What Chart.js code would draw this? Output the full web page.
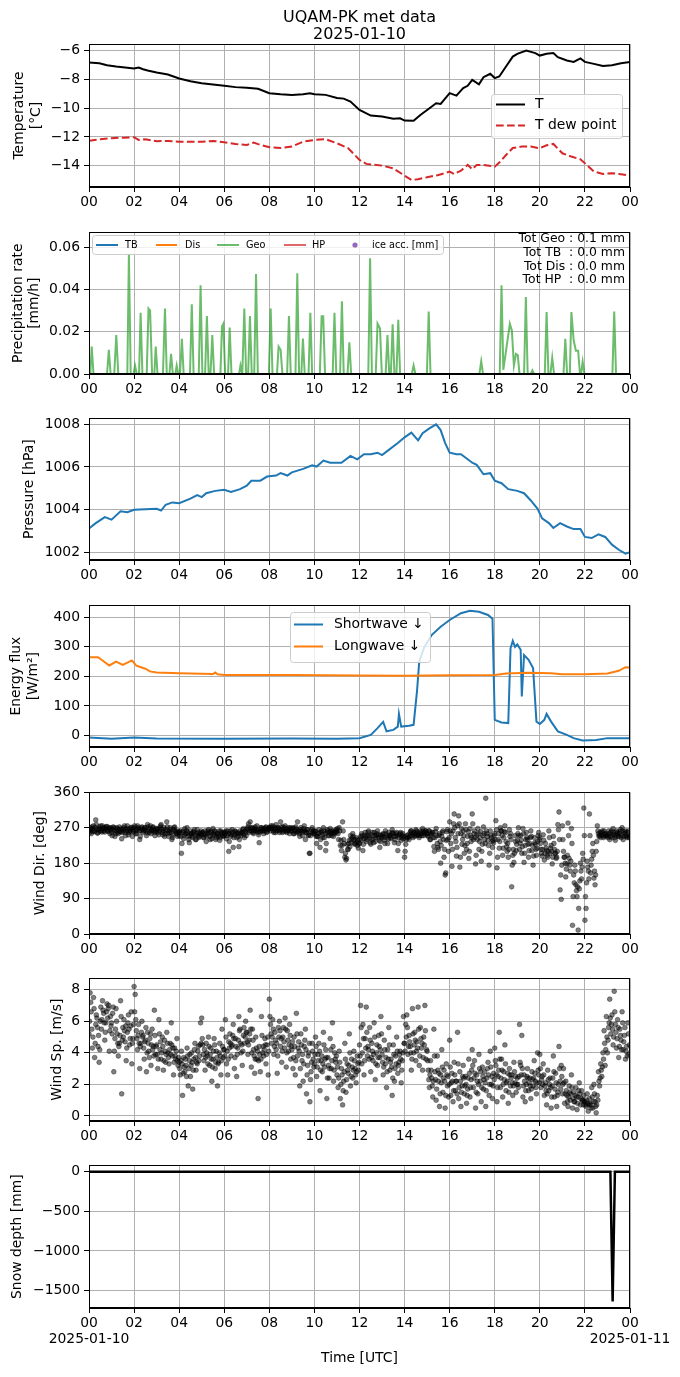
<!DOCTYPE html>
<html>
<head>
<meta charset="utf-8">
<script src="https://cdn.jsdelivr.net/npm/chart.js@4.4.1/dist/chart.umd.min.js"></script>
<style>
  body { margin: 0; background: #fff; }
  #fig { position: relative; width: 680px; height: 1377px; background: #fff; }
  #fig canvas { position: absolute; left: 0; }
</style>
</head>
<body>
<div id="fig">
  <canvas id="cTemp"></canvas>
  <canvas id="cPrecip"></canvas>
  <canvas id="cPres"></canvas>
  <canvas id="cFlux"></canvas>
  <canvas id="cDir"></canvas>
  <canvas id="cSpd"></canvas>
  <canvas id="cSnow"></canvas>
</div>
<script>
// ---- data (hours since 2025-01-10 00 UTC) ----
const titleLines = ['UQAM-PK met data', '2025-01-10'];
const dateLabels = ['2025-01-10', '2025-01-11'];

const tempHours = [0,0.46,0.8,1.2,1.6,2.0,2.2,2.4,2.6,3.0,3.5,4.0,4.5,5.0,5.5,6.0,6.5,7.0,7.5,8.0,8.5,9.0,9.5,9.8,10.0,10.5,11.0,11.3,11.6,12.0,12.5,13.0,13.5,13.8,14.0,14.4,14.7,15.0,15.4,15.6,16.0,16.3,16.6,16.8,17.0,17.3,17.5,17.8,18.0,18.2,18.5,18.8,19.0,19.4,19.8,20.0,20.3,20.6,20.8,21.2,21.5,21.8,22.0,22.4,22.8,23.2,23.6,24];
const tempC = [-6.81,-6.86,-7.0,-7.09,-7.16,-7.23,-7.16,-7.28,-7.37,-7.51,-7.65,-7.93,-8.12,-8.26,-8.35,-8.44,-8.53,-8.58,-8.65,-8.95,-9.02,-9.07,-9.02,-8.95,-9.02,-9.07,-9.28,-9.33,-9.53,-10.12,-10.51,-10.58,-10.74,-10.7,-10.86,-10.88,-10.47,-10.12,-9.65,-9.7,-8.95,-9.12,-8.6,-8.44,-8.02,-8.33,-7.84,-7.6,-7.9,-7.79,-7.09,-6.4,-6.21,-5.98,-6.16,-6.33,-6.21,-6.16,-6.44,-6.67,-6.77,-6.53,-6.77,-6.91,-7.05,-7.0,-6.86,-6.77];

const dewHours = [0,0.5,1.0,1.5,2.0,2.2,2.5,3.0,3.5,4.0,5.0,5.5,6.0,6.5,7.0,7.3,7.5,8.0,8.5,9.0,9.5,10.0,10.5,11.0,11.5,12.0,12.3,13.0,13.5,14.0,14.3,14.6,15.0,15.5,16.0,16.2,16.5,16.8,17.0,17.2,17.5,18.0,18.2,18.5,18.8,19.2,19.6,20.0,20.3,20.6,21.0,21.4,21.8,22.0,22.4,22.8,23.2,23.6,24];
const dewC = [-12.26,-12.16,-12.09,-12.05,-12.02,-12.21,-12.16,-12.3,-12.28,-12.33,-12.33,-12.28,-12.37,-12.49,-12.56,-12.4,-12.5,-12.72,-12.77,-12.67,-12.33,-12.21,-12.16,-12.44,-12.79,-13.6,-13.88,-14.0,-14.19,-14.7,-15.0,-14.95,-14.81,-14.65,-14.42,-14.58,-14.35,-13.95,-14.26,-13.95,-13.95,-14.07,-13.79,-13.26,-12.77,-12.67,-12.67,-12.79,-12.58,-12.49,-13.14,-13.37,-13.56,-13.84,-14.42,-14.58,-14.53,-14.6,-14.7];

const geoHours = [0,0.06,0.12,0.2,0.8,0.88,0.96,1.12,1.21,1.3,1.7,1.77,1.85,1.98,2.04,2.12,2.22,2.29,2.37,2.56,2.64,2.71,2.8,2.9,2.96,3.04,3.28,3.37,3.45,3.57,3.64,3.72,3.83,3.89,3.96,4.04,4.12,4.2,4.48,4.56,4.64,4.87,4.95,5.03,5.15,5.23,5.31,5.39,5.47,5.55,5.83,5.9,5.96,6.04,6.17,6.24,6.32,6.66,6.72,6.8,6.89,6.97,7.06,7.14,7.22,7.33,7.41,7.49,7.98,8.06,8.14,8.34,8.41,8.5,8.58,8.79,8.87,8.95,9.16,9.24,9.32,9.42,9.49,9.57,9.74,9.82,9.9,10.24,10.32,10.39,10.47,10.81,10.89,10.97,11.14,11.22,11.3,11.47,11.55,11.63,12.39,12.47,12.55,12.72,12.8,12.91,12.99,13.16,13.24,13.32,13.39,13.47,13.55,13.64,13.72,13.8,14.32,14.4,14.48,14.99,15.07,15.15,17.32,17.4,17.48,18.22,18.3,18.38,18.67,18.76,18.85,18.94,19.02,19.1,19.3,19.38,19.46,19.6,19.67,19.75,20.22,20.3,20.38,20.47,20.55,20.63,21.05,21.13,21.21,21.33,21.4,21.5,21.6,21.7,21.78,21.83,21.9,21.98,23.22,23.3,23.38,24];
const geoRate = [0,0,0.013,0,0,0.0115,0,0,0.0185,0,0,0.057,0,0,0.004,0,0,0.029,0,0,0.031,0.030,0,0,0.013,0,0,0.031,0,0,0.0095,0,0,0.004,0,0,0.0167,0,0,0.033,0,0,0.042,0,0,0.0275,0,0,0.0185,0,0,0.0225,0.0238,0,0,0.022,0,0,0.004,0,0.031,0,0,0.0275,0,0,0.0474,0,0,0.031,0,0,0.013,0.0115,0,0,0.0275,0,0,0.0477,0,0,0.0168,0,0,0.029,0,0,0.0274,0.0274,0,0,0.029,0,0,0.0345,0,0,0.015,0,0,0.0548,0,0,0.0238,0.0215,0,0,0.0185,0,0,0.0236,0,0,0.0257,0,0,0.004,0,0,0.0296,0,0,0.006,0,0,0.042,0.002,0.0238,0.0205,0.004,0.0095,0.009,0,0,0.0365,0,0,0.0017,0,0,0.0293,0,0,0.0077,0,0,0.0167,0,0,0.0293,0.016,0.011,0.011,0,0,0.0058,0,0,0.0296,0,0];
const precipTotals = ['Tot Geo : 0.1 mm', 'Tot TB  : 0.0 mm', 'Tot Dis : 0.0 mm', 'Tot HP  : 0.0 mm'];

const presHours = [0,0.3,0.7,1.0,1.4,1.7,2.0,2.5,3.0,3.2,3.4,3.7,4.0,4.5,4.8,5.0,5.2,5.6,6.0,6.3,6.7,7.0,7.2,7.6,7.9,8.3,8.5,8.8,9.0,9.5,9.9,10.1,10.4,10.7,11.2,11.6,11.9,12.2,12.5,12.8,13.0,13.3,13.7,14.0,14.3,14.6,14.8,15.1,15.4,15.6,15.8,16.0,16.3,16.5,16.8,17.0,17.2,17.5,17.8,18.0,18.3,18.6,19.0,19.3,19.6,19.9,20.1,20.4,20.6,20.9,21.2,21.5,21.8,22.0,22.3,22.6,22.9,23.2,23.5,23.8,24];
const presHpa = [1003.12,1003.37,1003.65,1003.53,1003.92,1003.88,1003.99,1004.02,1004.04,1003.96,1004.23,1004.34,1004.3,1004.52,1004.68,1004.59,1004.77,1004.88,1004.93,1004.83,1004.96,1005.12,1005.35,1005.36,1005.55,1005.6,1005.71,1005.6,1005.75,1005.91,1006.08,1006.02,1006.3,1006.2,1006.2,1006.52,1006.36,1006.6,1006.6,1006.67,1006.56,1006.8,1007.12,1007.39,1007.61,1007.25,1007.58,1007.81,1008.0,1007.73,1007.12,1006.67,1006.6,1006.6,1006.36,1006.2,1006.1,1005.66,1005.71,1005.36,1005.24,1004.96,1004.88,1004.77,1004.43,1004.04,1003.59,1003.37,1003.14,1003.37,1003.21,1003.09,1003.09,1002.72,1002.67,1002.84,1002.72,1002.36,1002.12,1001.94,1002.0];

const swHours = [0,1,2,3,6,9,11,12,12.5,12.8,13.05,13.2,13.5,13.7,13.75,13.85,14.2,14.4,14.55,14.65,14.85,15.2,15.6,16.0,16.5,16.9,17.3,17.7,17.9,18.0,18.3,18.6,18.7,18.8,18.9,19.0,19.15,19.2,19.3,19.5,19.7,19.85,20.0,20.2,20.3,20.5,20.8,21.2,21.5,21.9,22.5,23.0,24];
const swWm2 = [-7,-11,-7,-10,-11,-10,-11,-9,2,25,46,14,19,30,73,30,33,36,149,250,295,340,368,391,414,422,419,408,395,53,44,42,295,320,300,308,290,132,272,256,228,47,39,53,73,47,14,2,-9,-17,-15,-9,-9];
const lwHours = [0,0.4,0.6,0.9,1.2,1.5,1.9,2.1,2.5,2.7,3.0,4.0,5.5,5.6,5.7,6,9,12,14,16,18,18.5,19.5,20.5,21,22,23,23.5,23.8,24];
const lwWm2 = [265,265,254,237,250,239,254,236,226,217,213,211,208,213,207,205,205,203,202,204,205,210,212,211,207,207,210,219,231,230];

// wind: one row per hour, one sample every 1.5 minutes
const windStepMin = 1.5;
const windDirByHour = [
  [262,258,270,265,255,272,268,260,275,263,260,270,290,278,265,256,258,266,272,262,268,275,262,259,275,268,270,262,259,270,266,273,273,262,261,268,270,255,264,270],
  [258,250,265,272,270,262,248,255,262,270,268,258,255,265,272,260,260,268,242,258,266,262,270,275,258,250,263,268,275,262,252,258,268,262,260,271,270,248,265,260],
  [270,275,262,255,255,265,275,270,268,262,240,248,262,270,272,266,258,262,265,270,270,262,250,257,278,272,262,258,268,275,255,262,265,270,272,262,258,250,262,268],
  [260,265,268,258,252,262,270,275,278,266,258,252,262,270,248,255,266,262,285,272,255,248,262,258,270,265,258,240,245,252,265,270,272,262,260,255,255,248,262,258],
  [250,258,262,248,205,230,258,262,242,250,268,255,255,262,270,258,248,240,232,250,262,255,255,248,245,258,260,265,252,240,240,255,265,250,258,245,248,255,255,262],
  [252,258,258,245,245,252,262,255,235,248,255,262,265,258,248,240,258,262,242,250,268,255,252,262,260,240,245,255,255,248,250,262,238,245,262,258,255,250,248,258],
  [250,255,258,262,242,250,262,255,210,235,255,262,248,252,265,258,220,245,252,262,260,255,245,258,255,248,222,240,262,255,250,258,258,265,268,252,245,262,258,250],
  [265,268,272,280,258,262,285,270,262,268,270,258,255,262,268,272,262,265,275,262,258,252,232,260,265,270,270,262,262,268,255,262,268,270,272,258,260,265,266,270],
  [270,268,262,275,268,270,275,262,258,270,265,258,278,270,262,268,270,265,258,262,285,272,265,258,272,265,260,270,275,262,268,258,262,265,270,262,255,270,268,262],
  [262,268,270,255,255,262,268,272,258,265,285,260,262,255,248,265,270,262,258,250,262,268,275,262,240,258,258,265,265,250,252,205,205,250,260,265,270,258,255,262],
  [255,260,262,248,230,248,248,255,265,258,220,240,258,262,252,245,270,262,245,255,212,230,258,265,262,250,250,258,268,262,255,250,262,258,248,255,258,262,265,258],
  [262,268,255,240,270,262,225,238,212,225,285,262,240,230,195,205,188,192,228,215,215,230,238,222,250,240,232,245,255,248,240,230,228,240,245,232,225,238,218,230],
  [230,242,248,238,255,250,212,228,242,250,258,245,235,240,250,258,262,250,245,232,228,240,252,258,240,232,258,250,235,245,250,255,262,252,245,238,220,235,252,245],
  [248,252,255,245,238,230,262,255,245,250,230,242,258,250,250,245,242,255,265,258,255,248,232,240,248,255,258,250,212,230,245,252,255,258,238,245,250,255,242,248],
  [195,210,228,240,245,250,252,245,240,248,258,262,262,255,250,245,255,258,248,252,265,262,258,250,252,255,245,250,262,258,255,250,268,262,250,255,258,262,262,255],
  [255,250,248,262,262,240,240,255,252,258,258,245,222,210,245,260,268,250,230,220,215,250,255,235,180,225,248,258,262,240,195,215,150,155,238,260,265,240,210,245],
  [285,262,230,255,172,215,262,280,305,270,245,235,198,220,275,255,300,280,170,195,255,268,228,240,262,250,205,225,280,265,215,230,248,260,192,210,268,250,235,245],
  [305,280,240,255,262,245,178,200,252,240,268,255,215,235,245,260,185,210,228,250,272,255,240,230,345,262,255,248,238,225,175,205,262,250,245,235,220,238,232,250],
  [255,240,288,265,168,195,240,255,218,235,270,262,262,250,200,218,245,260,275,258,235,222,210,230,195,215,265,248,255,240,120,175,200,215,182,205,250,235,212,228],
  [238,255,270,250,215,230,250,238,205,222,268,255,182,205,225,240,258,245,240,228,195,212,230,245,262,248,212,225,175,198,245,232,228,215,200,218,235,250,258,240],
  [245,230,215,205,198,215,252,238,188,205,230,218,212,200,195,210,262,245,205,218,225,210,178,195,248,230,215,205,205,192,195,210,278,265,310,240,112,150,88,175],
  [275,240,210,195,195,180,145,165,178,200,282,250,192,175,160,185,268,230,22,95,150,130,175,160,125,110,95,120,10,65,115,135,180,160,140,170,205,190,320,250],
  [35,95,65,130,185,170,160,140,305,250,155,175,190,210,230,200,142,160,125,150,210,235,275,262,255,248,250,258,245,252,258,262,250,245,262,255,248,252,255,250],
  [250,245,262,255,240,248,258,262,245,252,268,258,252,245,238,250,262,258,255,248,248,255,260,265,245,250,270,262,240,248,255,258,262,250,248,245,258,262,245,250]
];
const windSpdByHour = [
  [5.2,6.0,7.8,7.2,6.6,5.5,4.3,5.0,7.5,6.8,3.7,4.6,5.8,6.4,6.2,5.6,4.4,5.1,3.4,4.2,6.0,6.9,5.5,6.1,7.3,6.7,6.5,5.9,4.8,5.3,5.9,6.6,7.1,6.2,6.8,7.0,4.1,5.4,6.3,5.7],
  [5.9,5.2,6.5,6.9,2.8,4.1,4.9,5.5,6.8,6.0,5.2,4.6,3.8,4.4,4.6,5.1,7.3,6.3,1.4,4.8,5.6,5.0,6.1,5.4,4.7,5.7,3.5,4.3,5.3,5.9,6.4,5.5,4.5,4.9,5.7,6.6,3.3,4.6,4.9,5.8],
  [8.2,6.6,7.7,6.1,5.4,4.9,4.2,5.1,5.8,4.6,3.0,4.4,4.6,5.3,6.0,5.0,5.1,4.3,3.6,4.7,4.8,5.6,2.8,4.0,5.3,4.6,4.1,3.7,4.9,5.2,3.2,4.5,5.5,4.2,4.4,3.8,6.7,5.1,3.9,4.4],
  [4.5,3.9,3.0,3.6,6.1,5.2,4.2,4.7,3.6,4.0,5.0,4.4,2.9,3.5,4.8,4.1,3.4,3.9,5.3,4.6,4.0,3.7,3.3,4.2,4.6,3.9,5.9,4.5,3.8,4.3,2.6,3.4,4.3,3.8,3.6,4.1,4.9,3.5,3.2,3.7],
  [3.4,3.0,2.6,3.5,4.1,3.3,1.3,2.7,3.7,3.1,2.8,3.6,3.2,2.5,4.3,3.8,1.9,3.0,3.5,3.9,2.5,3.2,4.0,3.4,1.7,2.9,3.6,4.2,4.6,3.7,2.9,3.4,3.3,4.1,4.4,3.5,3.8,4.5,5.9,4.6],
  [6.2,4.9,4.5,3.9,3.5,4.2,2.9,3.7,4.6,4.0,3.8,3.3,5.0,4.4,3.2,3.9,4.3,3.6,2.2,3.1,3.6,4.1,4.9,4.5,3.0,3.4,4.1,3.7,1.9,3.3,3.4,4.0,4.6,3.8,2.6,3.5,5.5,4.4,3.7,4.2],
  [4.2,3.8,6.1,5.0,3.3,4.1,2.6,3.6,4.7,4.3,5.2,4.6,3.8,4.4,4.5,5.1,5.8,4.9,3.0,3.7,4.9,4.4,2.5,3.9,4.3,4.8,6.3,5.4,5.5,4.6,4.0,4.5,3.2,4.1,5.1,5.6,4.6,5.0,6.0,5.3],
  [5.3,4.7,3.9,4.5,4.8,5.2,6.7,5.5,3.1,4.0,5.5,4.8,4.2,3.8,2.7,3.6,5.0,4.3,3.6,4.1,1.1,3.5,4.4,3.9,2.8,3.6,6.3,5.1,4.0,4.4,3.8,4.2,4.9,4.5,3.3,3.9,4.5,5.0,2.6,4.1],
  [7.4,6.3,5.8,5.2,4.6,5.0,6.1,5.5,3.9,4.4,5.3,4.8,4.2,4.6,2.7,3.8,5.6,5.0,6.0,5.4,4.4,4.9,3.4,4.1,5.0,5.6,4.7,4.3,6.2,5.5,3.1,4.0,5.4,4.8,4.1,4.5,5.8,5.1,3.6,4.4],
  [4.2,4.7,3.0,3.7,5.0,4.4,2.6,3.5,6.5,5.2,3.8,4.3,4.7,4.1,1.9,3.0,5.2,4.5,3.5,3.9,2.2,3.3,4.4,4.8,5.5,4.2,1.4,2.6,3.2,3.8,4.0,4.6,0.9,2.3,2.8,3.4,4.6,4.1,3.6,3.1],
  [3.3,3.9,5.0,4.4,2.5,3.1,3.9,3.5,4.6,4.1,1.6,2.9,3.5,3.8,2.8,3.3,5.3,4.5,3.1,3.6,4.2,3.7,1.1,2.4,3.7,3.2,2.4,3.0,4.9,4.2,3.0,3.5,5.9,4.4,2.2,2.9,4.0,3.6,3.4,3.8],
  [2.6,3.1,1.8,2.4,4.1,3.4,1.1,2.0,3.0,2.6,0.7,1.6,2.2,2.8,4.6,3.6,1.5,2.3,3.3,2.9,2.7,3.2,5.2,4.0,1.9,2.5,3.6,3.1,2.4,2.9,4.1,3.5,3.0,2.6,2.1,2.8,3.8,3.3,2.9,3.4],
  [4.5,3.8,7.0,5.6,3.3,4.0,5.8,4.9,2.6,3.5,4.9,4.3,6.9,5.3,3.8,4.4,4.2,3.6,5.6,4.8,2.8,3.7,4.6,4.1,3.5,3.9,5.9,5.0,2.3,3.3,4.0,4.5,3.2,3.7,5.1,4.4,3.7,4.2,6.3,5.2],
  [3.9,3.4,2.6,3.1,4.8,4.2,3.3,3.7,1.8,2.8,4.2,3.6,5.6,4.5,2.9,3.4,3.6,3.1,1.3,2.4,4.5,3.9,2.2,3.0,3.8,3.3,5.0,4.1,2.7,3.2,3.4,3.9,4.1,3.6,2.1,2.9,3.5,4.0,6.3,4.6],
  [4.6,4.1,5.8,5.0,6.4,5.6,3.9,4.4,5.1,4.7,4.4,4.0,2.9,3.6,6.8,5.2,4.0,4.5,5.3,4.8,3.5,4.1,4.7,4.3,6.9,5.5,3.2,3.8,5.6,4.9,4.3,4.6,2.9,3.7,5.0,4.5,7.0,5.4,3.6,4.2],
  [4.1,3.5,2.9,2.3,1.8,2.6,3.5,2.9,2.4,1.9,1.2,2.2,5.5,3.8,2.8,2.3,1.0,1.7,3.8,2.9,2.2,2.7,0.6,1.4,2.6,2.1,4.2,3.1,1.5,2.4,2.9,2.2,0.5,1.3,3.3,2.6,1.9,2.5,1.2,2.0],
  [4.8,3.1,1.3,2.1,2.7,2.2,0.9,1.6,3.4,2.6,1.6,2.2,2.2,1.4,5.3,3.3,1.1,1.8,2.8,2.2,0.6,1.5,1.9,2.5,3.2,2.4,1.4,1.9,2.5,2.0,0.8,1.3,1.7,2.4,3.6,2.7,1.2,1.8,2.3,2.9],
  [4.2,3.2,1.8,2.4,3.5,2.7,0.5,1.5,2.6,2.2,1.4,2.0,3.9,3.0,2.2,2.8,0.9,1.8,3.1,2.5,1.7,2.3,2.8,2.1,0.6,1.6,2.4,3.0,3.4,2.6,1.3,2.0,4.1,3.1,2.0,2.5,1.1,1.9,2.7,2.3],
  [4.3,3.5,3.2,2.6,0.9,1.8,2.5,2.9,5.3,3.6,1.8,2.4,3.6,2.9,1.2,2.0,2.8,2.3,4.5,3.3,1.6,2.1,2.2,2.7,0.8,1.5,3.0,2.6,1.9,2.4,2.6,2.1,1.3,1.9,3.4,2.8,2.1,2.5,1.5,2.0],
  [2.4,2.0,1.8,2.5,5.8,3.4,3.2,2.6,5.1,3.0,1.2,1.9,2.6,2.2,0.9,1.6,2.0,2.5,3.0,2.4,1.6,2.1,2.4,1.9,1.1,1.7,2.8,2.3,1.9,2.4,3.5,2.7,2.2,1.8,1.4,2.1,4.0,2.9,2.6,2.1],
  [3.9,3.0,1.8,2.3,2.5,2.0,3.3,2.6,1.3,1.9,2.1,1.6,0.7,1.4,2.9,2.3,1.6,2.0,2.4,1.8,0.5,1.2,1.9,2.4,3.8,2.8,1.2,1.7,2.7,2.1,0.6,1.3,1.5,2.0,4.4,3.0,2.2,1.7,3.2,2.5],
  [1.4,2.0,3.0,2.1,0.8,1.4,2.2,1.6,1.3,0.9,0.6,1.2,1.9,1.5,1.0,1.4,2.6,1.8,0.5,1.1,1.5,0.9,0.9,1.3,1.8,1.2,0.4,0.8,1.2,1.6,2.1,1.4,0.7,1.1,1.6,1.0,1.0,0.7,1.3,0.9],
  [0.9,0.7,0.6,1.0,1.4,0.8,0.3,0.7,1.1,0.8,0.7,0.5,1.8,1.2,0.5,0.9,2.0,1.4,0.9,0.6,0.2,0.7,1.3,1.0,2.8,2.2,1.9,2.4,3.3,2.9,2.5,3.1,4.0,3.6,5.4,4.6,3.2,4.2,6.3,5.0],
  [4.0,4.8,5.6,5.9,7.4,6.2,5.2,5.8,6.4,5.5,4.5,5.0,7.9,6.6,5.8,5.3,4.3,4.9,6.1,5.6,3.7,4.4,5.5,5.1,4.8,4.2,6.6,5.9,4.2,4.7,5.1,5.6,3.6,4.1,4.4,3.8,5.9,5.2,3.9,4.5]
];

const snowHours = [0, 23.13, 23.23, 23.33, 24];
const snowMm = [0, 0, -1640, 0, 0];
const snowTicks = [-1500, -1000, -500, 0];

// ---- helpers ----
Chart.defaults.font.family = "'DejaVu Sans', sans-serif";
Chart.defaults.color = '#000';

const pts = (xs, ys) => xs.map((x, i) => ({ x: x, y: ys[i] }));
const hourlyPts = rows => rows.flatMap((row, h) => row.map((v, k) => ({ x: h + k * windStepMin / 60, y: v })));
const minus = s => String(s).replace('-', '\u2212');

const gridStyle = { color: '#b0b0b0', lineWidth: 1, tickColor: '#000', tickLength: 5, tickWidth: 1 };
const borderStyle = { color: '#000', width: 1 };

function xAxis(isLast) {
    return {
        type: 'linear', min: 0, max: 24,
        ticks: {
            stepSize: 2, autoSkip: false, maxRotation: 0, padding: 2,
            font: { size: 13.9, lineHeight: 1.15 },
            callback: v => {
                const lab = String(Math.round(v) % 24).padStart(2, '0');
                if (isLast && v === 0) return [lab, dateLabels[0]];
                if (isLast && v === 24) return [lab, dateLabels[1]];
                return lab;
            }
        },
        grid: gridStyle,
        border: borderStyle,
        title: {
            display: isLast, text: 'Time [UTC]',
            font: { size: 13.9, lineHeight: 1.2 }, padding: { top: 0, bottom: 10.7 }
        },
        afterFit: s => { s.height = isLast ? 69 : 28; }
    };
}

function yAxis(min, max, step, label, labelPad, fmt, fixedTicks) {
    const axis = {
        min: min, max: max,
        ticks: {
            stepSize: step, includeBounds: false, padding: 4,
            font: { size: 13.9 },
            callback: v => minus(fmt ? fmt(v) : v)
        },
        grid: gridStyle,
        border: borderStyle,
        title: {
            display: true, text: label,
            font: { size: 13.9, lineHeight: 1.2 }, padding: { top: labelPad, bottom: 0 }
        },
        afterFit: s => { s.width = 89; }
    };
    if (fixedTicks) axis.afterBuildTicks = s => { s.ticks = fixedTicks.map(v => ({ value: v })); };
    return axis;
}

// spines on top and right, drawn over the data like matplotlib
const framePlugin = {
    id: 'frame',
    afterDatasetsDraw(chart) {
        const { ctx, chartArea: a } = chart;
        ctx.save();
        ctx.strokeStyle = '#000';
        ctx.lineWidth = 1;
        ctx.strokeRect(Math.round(a.left) + 0.5, Math.round(a.top) + 0.5,
                       Math.round(a.width) - 1, Math.round(a.height) - 1);
        ctx.restore();
    }
};

// matplotlib style legend box placed at a fixed spot inside the axes
const boxLegend = {
    id: 'boxLegend',
    afterDraw(chart, args, o) {
        if (!o || !o.items) return;
        const ctx = chart.ctx;
        const top = chart.canvas.offsetTop;
        const [x0, y0, x1, y1] = o.box;
        ctx.save();
        ctx.beginPath();
        ctx.roundRect(x0 + 0.5, y0 - top + 0.5, x1 - x0, y1 - y0, 3);
        ctx.fillStyle = 'rgba(255,255,255,0.8)';
        ctx.fill();
        ctx.strokeStyle = '#cccccc';
        ctx.lineWidth = 1;
        ctx.stroke();
        ctx.font = o.size + "px 'DejaVu Sans', sans-serif";
        ctx.textBaseline = 'middle';
        o.items.forEach(it => {
            const ds = chart.data.datasets[it.ds];
            const y = it.y - top;
            if (ds.showLine === false) {
                ctx.beginPath();
                ctx.arc((it.l0 + it.l1) / 2, y, 2.6, 0, Math.PI * 2);
                ctx.fillStyle = ds.backgroundColor;
                ctx.fill();
            } else {
                ctx.beginPath();
                ctx.setLineDash(ds.borderDash || []);
                ctx.moveTo(it.l0, y);
                ctx.lineTo(it.l1, y);
                ctx.strokeStyle = ds.borderColor;
                ctx.lineWidth = ds.borderWidth;
                ctx.stroke();
                ctx.setLineDash([]);
            }
            ctx.fillStyle = '#000';
            ctx.fillText(ds.label, it.tx, y);
        });
        ctx.restore();
    }
};

const cornerText = {
    id: 'cornerText',
    afterDraw(chart, args, o) {
        if (!o || !o.lines) return;
        const ctx = chart.ctx;
        const top = chart.canvas.offsetTop;
        ctx.save();
        ctx.font = o.size + "px 'DejaVu Sans', sans-serif";
        ctx.textAlign = 'right';
        ctx.textBaseline = 'middle';
        ctx.fillStyle = '#000';
        o.lines.forEach((t, i) => ctx.fillText(t, o.x, o.y0 + i * o.dy - top));
        ctx.restore();
    }
};

function panel(id, top, height, padTop, type, datasets, y, isLast, plugins) {
    const canvas = document.getElementById(id);
    canvas.width = 680;
    canvas.height = height;
    canvas.style.top = top + 'px';
    canvas.style.width = '680px';
    canvas.style.height = height + 'px';
    return new Chart(canvas, {
        type: type,
        data: { datasets: datasets },
        options: {
            responsive: false,
            animation: false,
            events: [],
            layout: { padding: { top: padTop, right: 50, bottom: 0, left: 0 } },
            elements: { point: { radius: 0 }, line: { tension: 0 } },
            scales: { x: xAxis(isLast), y: y },
            plugins: Object.assign({ legend: { display: false }, tooltip: { enabled: false } }, plugins || {})
        },
        plugins: [framePlugin, boxLegend, cornerText]
    });
}

// 1. temperature
panel('cTemp', 0, 215, 0, 'line', [
    { label: 'T', data: pts(tempHours, tempC), borderColor: '#000000', borderWidth: 2 },
    { label: 'T dew point', data: pts(dewHours, dewC), borderColor: '#d62728', borderWidth: 2, borderDash: [7.7, 3.3] }
], yAxis(-15.49, -5.53, 2, ['Temperature', '[°C]'], 11.2), false, {
    title: {
        display: true, text: titleLines, fullSize: false, color: '#000',
        font: { size: 16, weight: 'normal', lineHeight: 1.04 }, padding: { top: 9.8, bottom: 1.0 }
    },
    boxLegend: {
        box: [491, 94, 622, 138], size: 13.9,
        items: [ { ds: 0, y: 104.5, l0: 496, l1: 525, tx: 535 }, { ds: 1, y: 125.5, l0: 496, l1: 525, tx: 535 } ]
    }
});

// 2. precipitation
panel('cPrecip', 220, 182, 12, 'line', [
    { label: 'TB', data: pts([0, 24], [0, 0]), borderColor: '#1f77b4', borderWidth: 2, order: 5 },
    { label: 'Dis', data: pts([0, 24], [0, 0]), borderColor: '#ff7f0e', borderWidth: 2, order: 4 },
    { label: 'Geo', data: pts(geoHours, geoRate), borderColor: 'rgba(44,160,44,0.7)', borderWidth: 2, order: 3 },
    { label: 'HP', data: pts([0, 24], [0, 0]), borderColor: 'rgba(214,39,40,0.7)', borderWidth: 2, order: 2 },
    { label: 'ice acc. [mm]', data: [], showLine: false, backgroundColor: '#9467bd', borderColor: '#9467bd', order: 1 }
], yAxis(0, 0.0671, 0.02, ['Precipitation rate', '[mm/h]'], 9.7, v => v.toFixed(2)), false, {
    boxLegend: {
        box: [92, 235, 443, 254], size: 9.7,
        items: [
            { ds: 0, y: 245, l0: 96, l1: 118, tx: 125 },
            { ds: 1, y: 245, l0: 156, l1: 177, tx: 185 },
            { ds: 2, y: 245, l0: 217, l1: 239, tx: 246 },
            { ds: 3, y: 245, l0: 284, l1: 306, tx: 312 },
            { ds: 4, y: 245, l0: 350, l1: 360, tx: 372 }
        ]
    },
    cornerText: { lines: precipTotals, x: 625, y0: 239, dy: 13.7, size: 12.4 }
});

// 3. pressure
panel('cPres', 406, 182, 12, 'line', [
    { label: 'P', data: pts(presHours, presHpa), borderColor: '#1f77b4', borderWidth: 2 }
], yAxis(1001.64, 1008.28, 2, 'Pressure [hPa]', 20.7), false);

// 4. radiation
panel('cFlux', 593, 182, 12, 'line', [
    { label: 'Shortwave \u2193', data: pts(swHours, swWm2), borderColor: '#1f77b4', borderWidth: 2, order: 2 },
    { label: 'Longwave \u2193', data: pts(lwHours, lwWm2), borderColor: '#ff7f0e', borderWidth: 2, order: 1 }
], yAxis(-39, 440.5, 100, ['Energy flux', '[W/m\u00b2]'], 8.2), false, {
    boxLegend: {
        box: [290, 612, 430, 662], size: 13.9,
        items: [ { ds: 0, y: 624.5, l0: 294, l1: 323, tx: 334 }, { ds: 1, y: 646.5, l0: 294, l1: 323, tx: 334 } ]
    }
});

// 5. wind direction
panel('cDir', 780, 182, 12, 'scatter', [
    { label: 'dir', data: hourlyPts(windDirByHour), pointRadius: 2.4, borderWidth: 0.6,
      backgroundColor: 'rgba(0,0,0,0.5)', borderColor: 'rgba(0,0,0,0.6)' }
], yAxis(0, 360, 90, 'Wind Dir. [deg]', 31.7), false);

// 6. wind speed
panel('cSpd', 966, 183, 12, 'scatter', [
    { label: 'spd', data: hourlyPts(windSpdByHour), pointRadius: 2.4, borderWidth: 0.6,
      backgroundColor: 'rgba(0,0,0,0.5)', borderColor: 'rgba(0,0,0,0.6)' }
], yAxis(-0.32, 8.72, 2, 'Wind Sp. [m/s]', 48.7), false);

// 7. snow depth
panel('cSnow', 1153, 224, 12, 'line', [
    { label: 'snow', data: pts(snowHours, snowMm), borderColor: '#000000', borderWidth: 2.5 }
], yAxis(-1722, 82, 500, 'Snow depth [mm]', 8.7, null, snowTicks), true);
</script>
</body>
</html>
